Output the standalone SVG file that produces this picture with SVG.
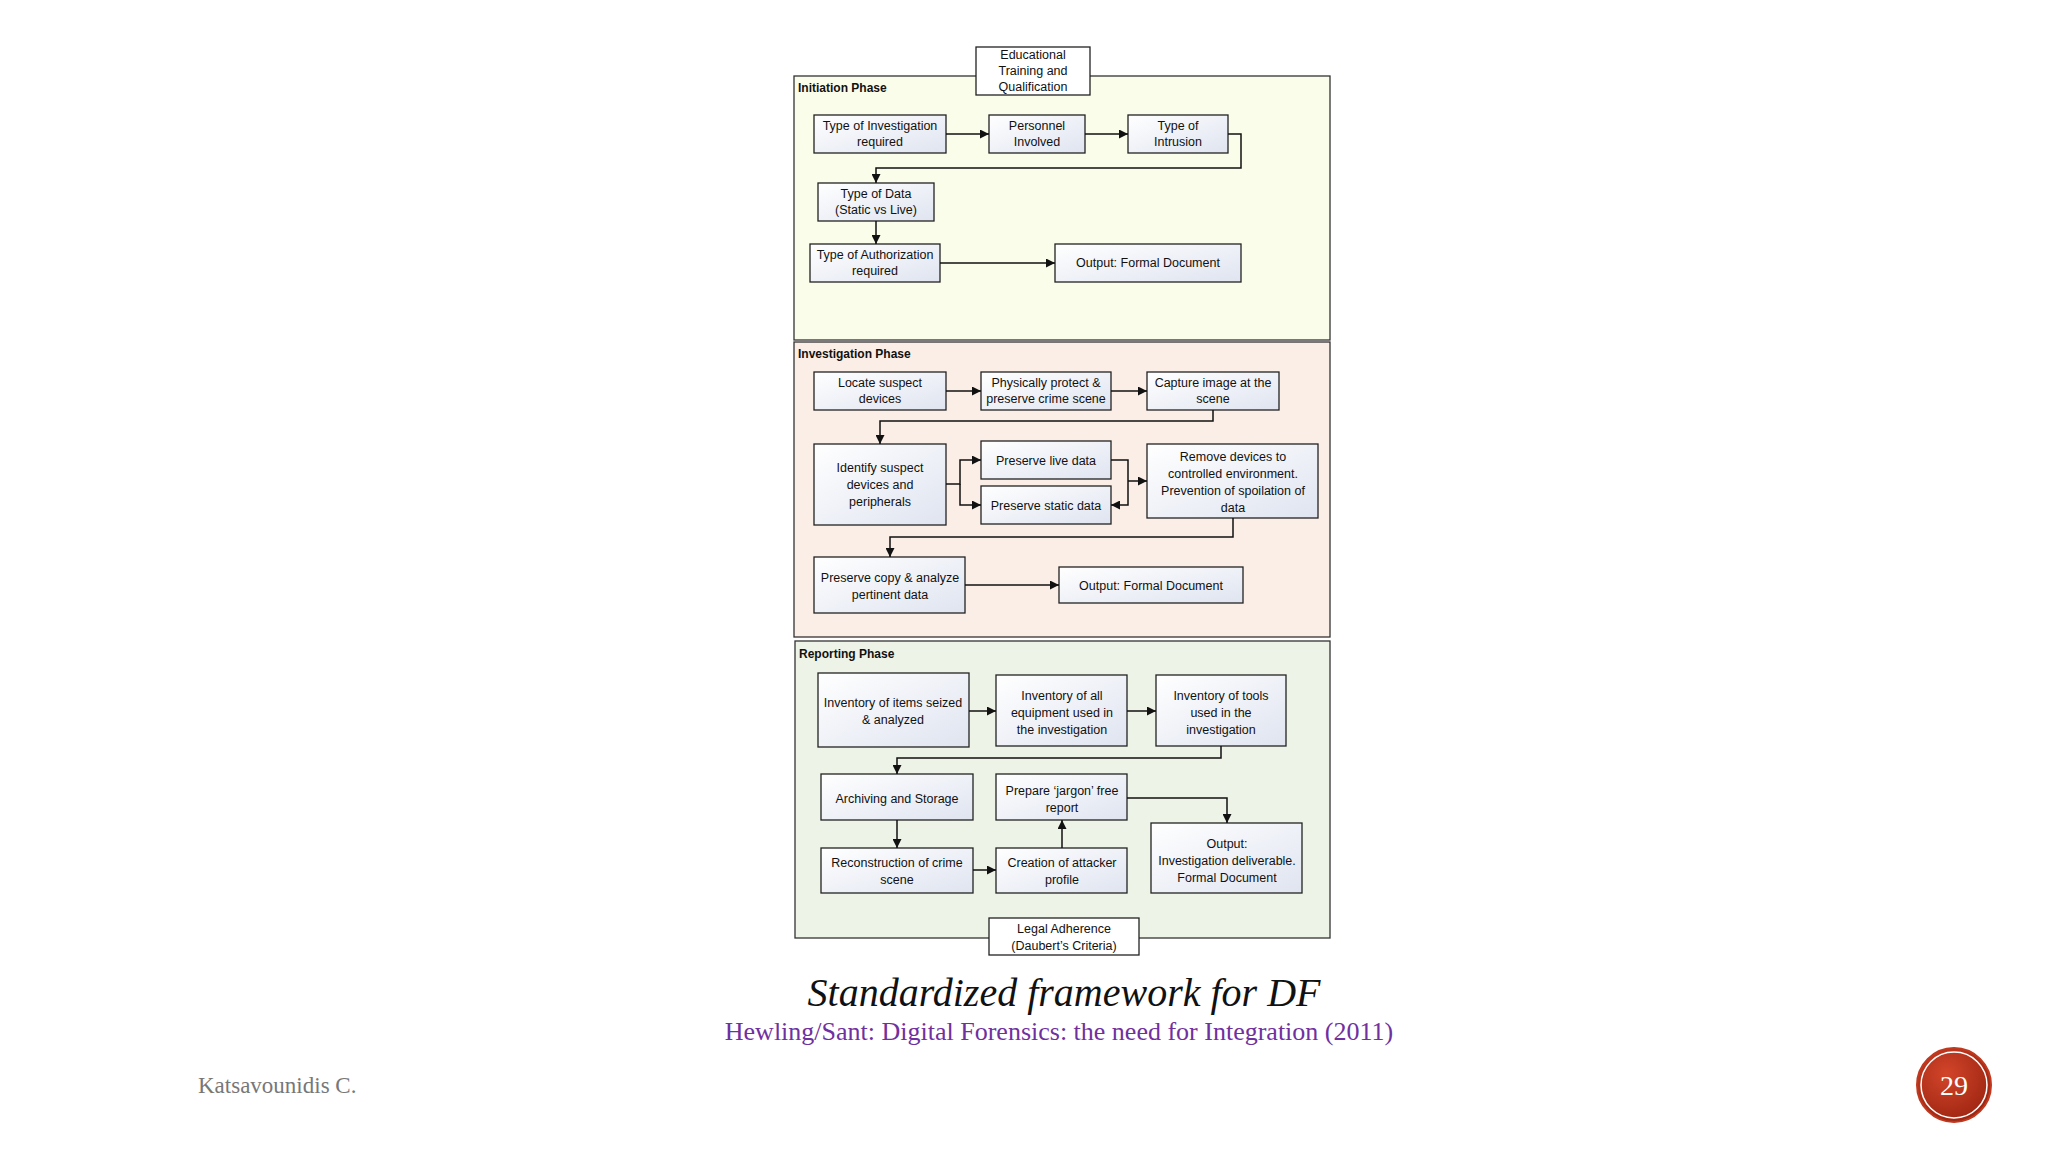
<svg xmlns="http://www.w3.org/2000/svg" width="2048" height="1152" viewBox="0 0 2048 1152">
<defs>
<linearGradient id="g" x1="0" y1="0" x2="1" y2="1"><stop offset="0" stop-color="#ffffff"/><stop offset="1" stop-color="#dfe4f0"/></linearGradient>
<marker id="a" viewBox="0 0 10 10" refX="10" refY="5" markerWidth="9" markerHeight="9" markerUnits="userSpaceOnUse" orient="auto"><path d="M0,0L10,5L0,10z" fill="#111"/></marker>
<radialGradient id="rc" cx="0.4" cy="0.35" r="0.7"><stop offset="0" stop-color="#d2452a"/><stop offset="1" stop-color="#9c2410"/></radialGradient>
</defs>
<style>
.b{fill:url(#g);stroke:#222;stroke-width:1.3}
.w{fill:#fff;stroke:#222;stroke-width:1.3}
.f{stroke:#333;stroke-width:1.3}
.t{font-family:"Liberation Sans",Arial,sans-serif;font-size:12.5px;fill:#111;text-anchor:middle}
.h{font-family:"Liberation Sans",Arial,sans-serif;font-size:12px;font-weight:bold;fill:#111}
.c path{fill:none;stroke:#111;stroke-width:1.5;marker-end:url(#a)}
</style>
<rect width="2048" height="1152" fill="#fff"/>
<g id="initiation"><rect class="f" x="794" y="76" width="536" height="264" fill="#fbfdeb"/><text class="h" x="798" y="92">Initiation Phase</text></g>
<g id="investigation"><rect class="f" x="794" y="342" width="536" height="295" fill="#fbeee6"/><text class="h" x="798" y="358">Investigation Phase</text></g>
<g id="reporting"><rect class="f" x="795" y="641" width="535" height="297" fill="#eef3e8"/><text class="h" x="799" y="658">Reporting Phase</text></g>

<g id="edu"><rect class="w" x="976" y="47" width="114" height="48"/><text class="t" x="1033" y="59">Educational</text><text class="t" x="1033" y="75">Training and</text><text class="t" x="1033" y="91">Qualification</text></g>
<g id="n1"><rect class="b" x="814" y="115" width="132" height="38"/><text class="t" x="880" y="130">Type of Investigation</text><text class="t" x="880" y="146">required</text></g>
<g id="n2"><rect class="b" x="989" y="115" width="96" height="38"/><text class="t" x="1037" y="130">Personnel</text><text class="t" x="1037" y="146">Involved</text></g>
<g id="n3"><rect class="b" x="1128" y="115" width="100" height="38"/><text class="t" x="1178" y="130">Type of</text><text class="t" x="1178" y="146">Intrusion</text></g>
<g id="n4"><rect class="b" x="818" y="183" width="116" height="38"/><text class="t" x="876" y="198">Type of Data</text><text class="t" x="876" y="214">(Static vs Live)</text></g>
<g id="n5"><rect class="b" x="810" y="244" width="130" height="38"/><text class="t" x="875" y="259">Type of Authorization</text><text class="t" x="875" y="275">required</text></g>
<g id="n6"><rect class="b" x="1055" y="244" width="186" height="38"/><text class="t" x="1148" y="267">Output: Formal Document</text></g>

<g id="m1"><rect class="b" x="814" y="372" width="132" height="38"/><text class="t" x="880" y="387">Locate suspect</text><text class="t" x="880" y="403">devices</text></g>
<g id="m2"><rect class="b" x="981" y="372" width="130" height="38"/><text class="t" x="1046" y="387">Physically protect &amp;</text><text class="t" x="1046" y="403">preserve crime scene</text></g>
<g id="m3"><rect class="b" x="1147" y="372" width="132" height="38"/><text class="t" x="1213" y="387">Capture image at the</text><text class="t" x="1213" y="403">scene</text></g>
<g id="m4"><rect class="b" x="814" y="444" width="132" height="81"/><text class="t" x="880" y="472">Identify suspect</text><text class="t" x="880" y="489">devices and</text><text class="t" x="880" y="506">peripherals</text></g>
<g id="m5"><rect class="b" x="981" y="441" width="130" height="38"/><text class="t" x="1046" y="465">Preserve live data</text></g>
<g id="m6"><rect class="b" x="981" y="486" width="130" height="38"/><text class="t" x="1046" y="510">Preserve static data</text></g>
<g id="m7"><rect class="b" x="1147" y="444" width="171" height="74"/><text class="t" x="1233" y="461">Remove devices to</text><text class="t" x="1233" y="478">controlled environment.</text><text class="t" x="1233" y="495">Prevention of spoilation of</text><text class="t" x="1233" y="512">data</text></g>
<g id="m8"><rect class="b" x="814" y="557" width="151" height="56"/><text class="t" x="890" y="582">Preserve copy &amp; analyze</text><text class="t" x="890" y="599">pertinent data</text></g>
<g id="m9"><rect class="b" x="1059" y="567" width="184" height="36"/><text class="t" x="1151" y="590">Output: Formal Document</text></g>

<g id="r1"><rect class="b" x="818" y="673" width="151" height="74"/><text class="t" x="893" y="707">Inventory of items seized</text><text class="t" x="893" y="724">&amp; analyzed</text></g>
<g id="r2"><rect class="b" x="996" y="675" width="131" height="71"/><text class="t" x="1062" y="700">Inventory of all</text><text class="t" x="1062" y="717">equipment used in</text><text class="t" x="1062" y="734">the investigation</text></g>
<g id="r3"><rect class="b" x="1156" y="675" width="130" height="71"/><text class="t" x="1221" y="700">Inventory of tools</text><text class="t" x="1221" y="717">used in the</text><text class="t" x="1221" y="734">investigation</text></g>
<g id="r4"><rect class="b" x="821" y="774" width="152" height="46"/><text class="t" x="897" y="803">Archiving and Storage</text></g>
<g id="r5"><rect class="b" x="821" y="848" width="152" height="45"/><text class="t" x="897" y="867">Reconstruction of crime</text><text class="t" x="897" y="884">scene</text></g>
<g id="r6"><rect class="b" x="996" y="848" width="131" height="45"/><text class="t" x="1062" y="867">Creation of attacker</text><text class="t" x="1062" y="884">profile</text></g>
<g id="r7"><rect class="b" x="996" y="774" width="131" height="46"/><text class="t" x="1062" y="795">Prepare ‘jargon’ free</text><text class="t" x="1062" y="812">report</text></g>
<g id="r8"><rect class="b" x="1151" y="823" width="151" height="70"/><text class="t" x="1227" y="848">Output:</text><text class="t" x="1227" y="865">Investigation deliverable.</text><text class="t" x="1227" y="882">Formal Document</text></g>
<g id="legal"><rect class="w" x="989" y="918" width="150" height="37"/><text class="t" x="1064" y="933">Legal Adherence</text><text class="t" x="1064" y="950">(Daubert’s Criteria)</text></g>

<g id="connectors" class="c">
<path d="M946,134H989"/><path d="M1085,134H1128"/>
<path d="M1228,134H1241V168H876V183"/>
<path d="M876,221V244"/><path d="M940,263H1055"/>
<path d="M946,391H981"/><path d="M1111,391H1147"/>
<path d="M1213,410V421H880V444"/>
<path d="M946,484H960V460H981"/><path d="M960,484V505H981"/>
<path d="M1111,460H1128V505H1111"/><path d="M1128,481H1147"/>
<path d="M1233,518V537H890V557"/>
<path d="M965,585H1059"/>
<path d="M969,711H996"/><path d="M1127,711H1156"/>
<path d="M1221,746V758H897V774"/>
<path d="M897,820V848"/><path d="M973,870H996"/><path d="M1062,848V820"/>
<path d="M1127,798H1227V823"/>
</g>

<text x="1064" y="1006" font-family="Liberation Serif,serif" font-style="italic" font-size="40" text-anchor="middle" fill="#111">Standardized framework for DF</text>
<text x="1059" y="1040" font-family="Liberation Serif,serif" font-size="26" text-anchor="middle" fill="#7030a0">Hewling/Sant: Digital Forensics: the need for Integration (2011)</text>
<text x="198" y="1093" font-family="Liberation Serif,serif" font-size="23" fill="#777">Katsavounidis C.</text>
<g id="page"><circle cx="1954" cy="1085" r="37" fill="url(#rc)" stroke="#c0391f" stroke-width="2"/><circle cx="1954" cy="1085" r="33" fill="none" stroke="#fff" stroke-width="1.5"/><text x="1954" y="1095" font-family="Liberation Serif,serif" font-size="28" text-anchor="middle" fill="#fff">29</text></g>
</svg>
